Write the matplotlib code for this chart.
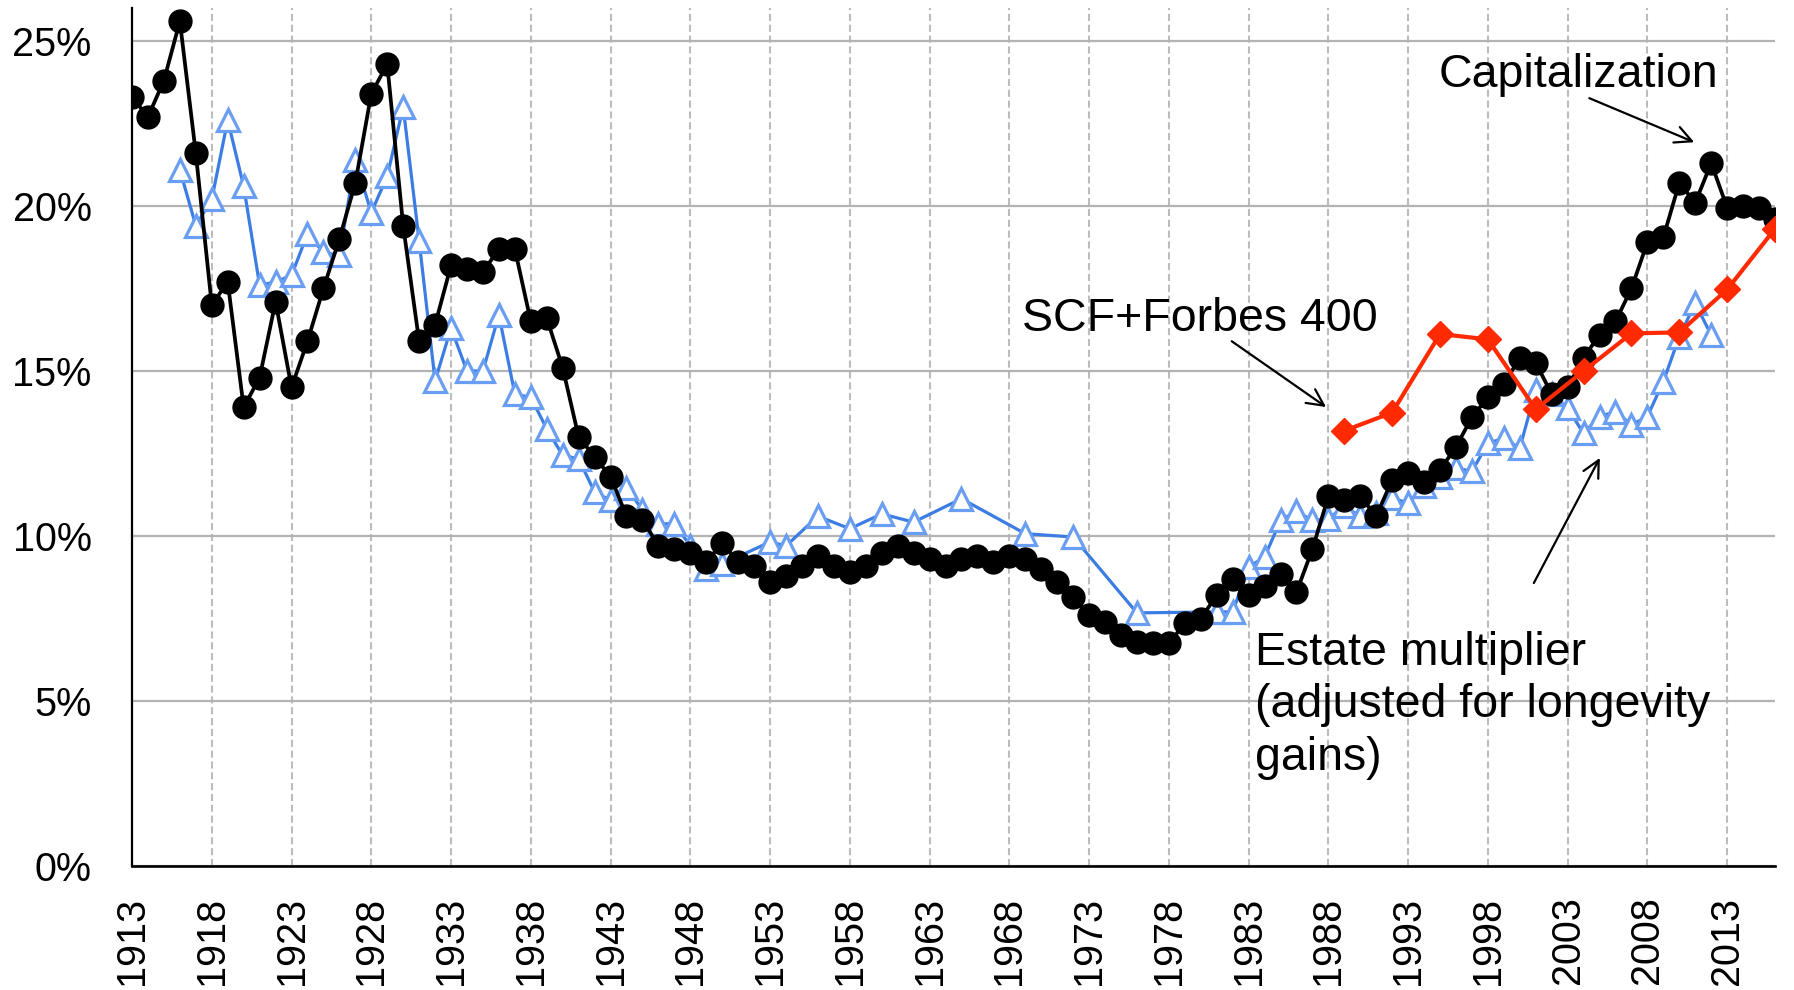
import matplotlib.pyplot as plt
import numpy as np
from matplotlib.ticker import FuncFormatter, MultipleLocator

plt.rcParams["font.family"] = ["Liberation Sans", "DejaVu Sans"]

# Capitalization method, top 0.1% wealth share (%)
cap_years = list(range(1913, 2017))
cap_share = [
    23.3, 22.7, 23.8, 25.6, 21.6, 17.0, 17.7, 13.9, 14.8, 17.1,
    14.5, 15.9, 17.5, 19.0, 20.7, 23.4, 24.3, 19.4, 15.9, 16.4,
    18.2, 18.1, 18.0, 18.7, 18.7, 16.5, 16.6, 15.1, 13.0, 12.4,
    11.8, 10.6, 10.5, 9.7, 9.6, 9.5, 9.2, 9.8, 9.2, 9.1,
    8.6, 8.8, 9.1, 9.4, 9.1, 8.9, 9.1, 9.5, 9.7, 9.5,
    9.3, 9.1, 9.3, 9.4, 9.2, 9.4, 9.3, 9.0, 8.6, 8.15,
    7.6, 7.4, 7.0, 6.8, 6.75, 6.75, 7.35, 7.5, 8.2, 8.7,
    8.2, 8.5, 8.85, 8.3, 9.6, 11.2, 11.1, 11.2, 10.6, 11.7,
    11.9, 11.65, 12.0, 12.7, 13.6, 14.2, 14.6, 15.4, 15.25, 14.3,
    14.5, 15.4, 16.1, 16.5, 17.5, 18.9, 19.05, 20.7, 20.1, 21.3,
    19.95, 20.0, 19.95, 19.6,
]

# Estate multiplier (adjusted for longevity gains)
estate_years = (
    list(range(1916, 1951))
    + [1953, 1954, 1956, 1958, 1960, 1962, 1965, 1969, 1972, 1976]
    + list(range(1981, 2013))
)
estate_share = [
    21.1, 19.4, 20.2, 22.6, 20.6, 17.6, 17.7, 17.9, 19.15, 18.6,
    18.5, 21.4, 19.8, 20.9, 23.0, 18.95, 14.7, 16.3, 15.0, 15.0,
    16.7, 14.3, 14.2, 13.25, 12.44, 12.34, 11.33, 11.08, 11.45, 10.8,
    10.37, 10.37, 9.7, 9.0, 9.15,
    9.82, 9.7, 10.6, 10.22, 10.67, 10.42, 11.13, 10.07, 9.97, 7.67,
    7.7, 7.7, 9.06, 9.36, 10.47, 10.75, 10.47, 10.52, 10.9, 10.6,
    10.7, 11.15, 11.0, 11.5, 11.8, 12.06, 11.96, 12.81, 12.96, 12.66,
    14.43, 14.3, 13.87, 13.11, 13.62, 13.77, 13.37, 13.62, 14.68, 16.04,
    17.05, 16.09,
]

# SCF + Forbes 400
scf_years = [1989, 1992, 1995, 1998, 2001, 2004, 2007, 2010, 2013, 2016]
scf_share = [13.19, 13.74, 16.12, 15.96, 13.84, 15.0, 16.14, 16.17, 17.47, 19.31]

tick_years = list(range(1913, 2014, 5))

fig = plt.figure(figsize=(17.94, 9.9), dpi=100)
ax = fig.add_axes([132 / 1794, 1 - 866 / 990, (1775 - 132) / 1794, (866 - 8) / 990])

ax.plot(estate_years, estate_share, color="#3b7de3", lw=2.3, marker="^",
        markersize=16, markerfacecolor="white", markeredgecolor="#6a9ef2",
        markeredgewidth=2.3, zorder=3)
ax.plot(cap_years, cap_share, color="black", lw=2.7, marker="o",
        markersize=16.5, zorder=4)
ax.plot(scf_years, scf_share, color="#ff2a00", lw=3.0, marker="D",
        markersize=13.5, zorder=5)

ax.set_xlim(1913, 2016)
ax.set_ylim(0, 26)
ax.set_xticks(tick_years)
ax.set_xticklabels([str(y) for y in tick_years], rotation=90, fontsize=28.5)
ax.yaxis.set_major_locator(MultipleLocator(5))
ax.yaxis.set_major_formatter(FuncFormatter(lambda v, p: f"{v:.0f}%"))
ax.tick_params(axis="y", labelsize=28.5, length=0, pad=29)
ax.tick_params(axis="x", length=0, pad=22)

ax.grid(axis="y", color="#b3b3b3", lw=1.6, linestyle="-")
ax.grid(axis="x", color="#bcbcbc", lw=1.5, linestyle=(0, (3.4, 1.8)))
ax.set_axisbelow(True)

for side in ["top", "right"]:
    ax.spines[side].set_visible(False)
ax.spines["left"].set_linewidth(1.6)
ax.spines["bottom"].set_linewidth(1.9)

text_size = 33.5
ax.text(1994.9, 23.6, "Capitalization", fontsize=text_size, va="baseline", ha="left")
ax.text(1968.8, 16.2, "SCF+Forbes 400", fontsize=text_size, va="baseline", ha="left")
ax.text(1983.4, 2.9, "Estate multiplier\n(adjusted for longevity\ngains)",
        fontsize=text_size, va="baseline", ha="left", linespacing=1.26)

arrow = dict(arrowstyle="->", color="black", lw=1.6, mutation_scale=30)
ax.annotate("", xy=(2011.1, 21.9), xytext=(2004.2, 23.3), arrowprops=arrow)
ax.annotate("", xy=(1988.0, 13.86), xytext=(1981.8, 15.95), arrowprops=arrow)
ax.annotate("", xy=(2005.1, 12.44), xytext=(2000.8, 8.5), arrowprops=arrow)

fig.savefig("out.png", dpi=100)
